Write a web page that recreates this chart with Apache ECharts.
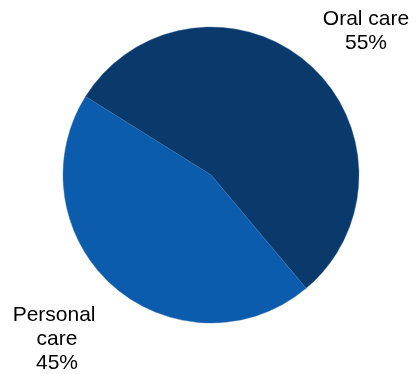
<!DOCTYPE html>
<html>
<head>
<meta charset="utf-8">
<script src="https://cdn.jsdelivr.net/npm/echarts@6/dist/echarts.min.js"></script>
<style>
  html, body { margin: 0; padding: 0; background: #fff; }
  #chart { width: 416px; height: 374px; }
</style>
</head>
<body>
<div id="chart"></div>
<script>
const categories = ['Oral care', 'Personal care'];
const shares = [55, 45];
const colors = ['#0a3a6b', '#0b5cad'];

// label anchors (text centre)
const labelSpots = [[366, 31], [57, 339]];

const chart = echarts.init(document.getElementById('chart'));

chart.setOption({
  animation: false,
  backgroundColor: '#fff',
  series: [{
    type: 'pie',
    center: [211, 175],
    radius: [0, 148],
    startAngle: 148,
    clockwise: true,
    data: categories.map((name, i) => ({
      name,
      value: shares[i],
      itemStyle: { color: colors[i] }
    })),
    itemStyle: { borderColor: '#3a6fa8', borderWidth: 0.4 },
    label: {
      show: true,
      position: 'outside',
      formatter: '{b}\n{d}%',
      fontFamily: 'Liberation Sans, Arial, sans-serif',
      fontSize: 21,
      lineHeight: 24,
      color: '#000',
      align: 'center',
      width: 100,
      overflow: 'break'
    },
    labelLine: { show: false },
    labelLayout: (params) => ({
      x: labelSpots[params.dataIndex][0],
      y: labelSpots[params.dataIndex][1],
      align: 'center',
      verticalAlign: 'middle'
    }),
    emphasis: { disabled: true }
  }]
});
</script>
</body>
</html>
